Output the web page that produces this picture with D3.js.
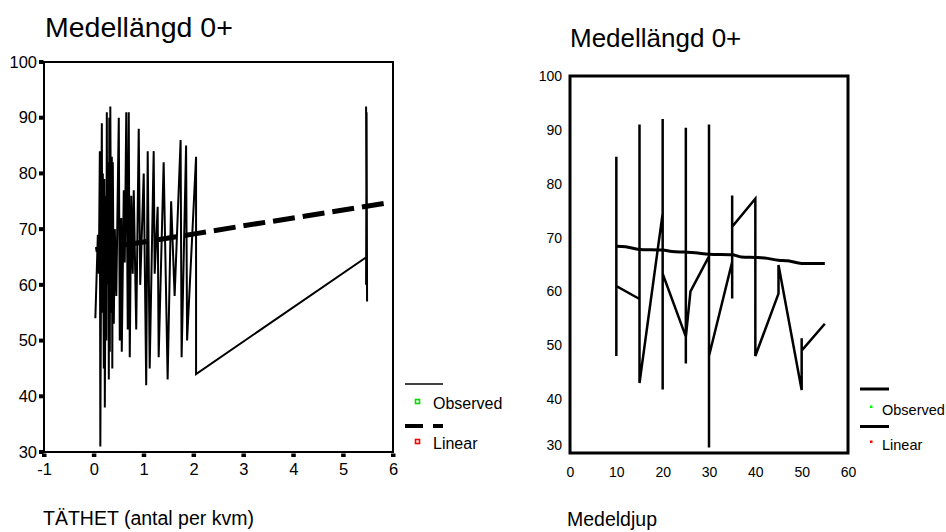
<!DOCTYPE html>
<html>
  <head>
    <title> Medellängd 0+ </title>
    <script src="https://d3js.org/d3.v7.min.js"></script>
    <style>
      body { margin: 0; background: #fff; }
      text { font-family: "Liberation Sans", Arial, sans-serif; fill: #000; }
    </style>
  </head>
  <body>
  <svg width="946" height="532"></svg>
  <script>

    // observed values, left plot: [TÄTHET, medellängd] in file order
    var obsTathet = [
      [0.03,54],[0.08,69],[0.10,62],[0.12,84],[0.13,31],[0.15,75],[0.16,89],[0.17,55],
      [0.18,80],[0.20,45],[0.21,79],[0.22,38],[0.24,76],[0.25,50],[0.26,91],[0.27,60],
      [0.29,82],[0.30,43],[0.31,90],[0.32,48],[0.33,92],[0.35,55],[0.36,83],[0.37,45],
      [0.38,82],[0.40,53],[0.42,70],[0.45,58],[0.50,90],[0.52,50],[0.55,72],[0.56,48],
      [0.60,77],[0.62,64],[0.65,91],[0.68,52],[0.70,91],[0.72,47],[0.75,76],[0.78,62],
      [0.80,77],[0.85,52],[0.90,88],[0.93,60],[1.00,80],[1.05,42],[1.08,84],[1.12,45],
      [1.20,84],[1.22,62],[1.28,74],[1.30,47],[1.40,82],[1.48,43],[1.55,75],[1.62,58],
      [1.74,86],[1.76,47],[1.85,85],[1.87,50],[2.05,83],[2.05,44],[5.47,65],[5.46,92],
      [5.48,57],[5.47,91],[5.46,60]
    ];
    // linear fit, left plot
    var fitTathet = [
      [0.03,66.3],[0.5,67.0],[1.0,67.7],[1.5,68.4],[2.05,69.2],[3,70.6],[4,72.0],[5.47,74.1],[5.82,74.6]
    ];

    // observed values, right plot: [Medeldjup, medellängd]
    var obsDjup = [
      [10,72],[10,85],[10,48],[10,70],[10,61],
      [15,58.6],[15,91],[15,43],
      [20,74.5],[20,41.8],[20,92],[20,63.3],
      [25,51.6],[25,90.4],[25,46.6],[25,51.5],[26,60],
      [30,66.5],[30,91],[30,31],[30,48],
      [35,65.5],[35,77.8],[35,58.7],[35,72],
      [40,77.2],[40,48],
      [45,59.6],[45,64.9],
      [50,41.7],[50,51.3],[50,49],
      [55,54]
    ];
    // linear fit, right plot
    var fitDjup = [
      [10,68.4],[12,68.3],[15,67.8],[20,67.7],[22,67.4],[25,67.3],[27,67.2],[30,66.9],
      [35,66.8],[37,66.4],[40,66.3],[42,66.2],[45,65.8],[47,65.7],[50,65.2],[55,65.2]
    ];

    var yTicks = [30, 40, 50, 60, 70, 80, 90, 100];
    var leftXTicks = [-1, 0, 1, 2, 3, 4, 5, 6];
    var rightXTicks = [0, 10, 20, 30, 40, 50, 60];
    var legendNames = ["Observed", "Linear"];

    var svg = d3.select("svg");

    var line = function(xs, ys) {
      return d3.line()
        .x(function(d) { return xs(d[0]); })
        .y(function(d) { return ys(d[1]); });
    };
    var plain = function(d) { return String(d); };

    //---------- left plot ----------
    var x1 = d3.scaleLinear().domain([-1, 6]).range([44, 393]);
    var y1 = d3.scaleLinear().domain([30, 100]).range([452, 62]);

    svg.append("text")
      .attr("x", 45).attr("y", 37)
      .attr("font-size", "28.5px")
      .text("Medellängd 0+");

    var ax1 = svg.append("g")
      .attr("transform", "translate(44,0)")
      .call(d3.axisLeft(y1).tickValues(yTicks).tickFormat(plain).tickSize(0).tickPadding(7));
    ax1.select(".domain").remove();
    ax1.selectAll("text").attr("font-size", "16.5px").attr("font-family", null);

    var bx1 = svg.append("g")
      .attr("transform", "translate(0,452)")
      .call(d3.axisBottom(x1).tickValues(leftXTicks).tickFormat(plain).tickSize(0).tickPadding(11));
    bx1.select(".domain").remove();
    bx1.selectAll("text").attr("font-size", "16.5px").attr("font-family", null);

    svg.append("rect")
      .attr("x", 44).attr("y", 62).attr("width", 349).attr("height", 390)
      .attr("fill", "none").attr("stroke", "#000").attr("stroke-width", 2);

    // small square tick marks
    svg.selectAll(".ytick1").data(yTicks).enter().append("rect")
      .attr("x", 39).attr("y", function(d) { return y1(d) - 2; })
      .attr("width", 4.5).attr("height", 4).attr("fill", "#000");
    svg.selectAll(".xtick1").data(leftXTicks).enter().append("rect")
      .attr("x", function(d) { return x1(d) - 2; }).attr("y", 453.5)
      .attr("width", 4.5).attr("height", 3.5).attr("fill", "#000");

    svg.append("path")
      .datum(obsTathet)
      .attr("d", line(x1, y1))
      .attr("fill", "none").attr("stroke", "#000")
      .attr("stroke-width", 2).attr("stroke-linejoin", "miter");

    svg.append("path")
      .datum(fitTathet)
      .attr("d", line(x1, y1))
      .attr("fill", "none").attr("stroke", "#000")
      .attr("stroke-width", 5).attr("stroke-dasharray", "22,8");

    //---------- left legend ----------
    svg.append("line").attr("x1", 405).attr("x2", 443).attr("y1", 384).attr("y2", 384)
      .attr("stroke", "#000").attr("stroke-width", 1.6);
    svg.append("line").attr("x1", 405).attr("x2", 443).attr("y1", 426).attr("y2", 426)
      .attr("stroke", "#000").attr("stroke-width", 4).attr("stroke-dasharray", "18,10");
    svg.selectAll(".lsq").data(legendNames).enter().append("rect")
      .attr("x", 415.5).attr("y", function(d, i) { return 399.5 + i * 40; })
      .attr("width", 4).attr("height", 4)
      .attr("fill", "#fff")
      .attr("stroke", function(d, i) { return i ? "#ff0000" : "#00e000"; })
      .attr("stroke-width", 1.6);
    svg.selectAll(".ltx").data(legendNames).enter().append("text")
      .attr("x", 433).attr("y", function(d, i) { return 409 + i * 40; })
      .attr("font-size", "16px")
      .text(function(d) { return d; });

    svg.append("text")
      .attr("x", 43).attr("y", 525)
      .attr("font-size", "19.5px")
      .text("TÄTHET (antal per kvm)");

    //---------- right plot ----------
    var x2 = d3.scaleLinear().domain([0, 60]).range([570, 848]);
    var y2 = d3.scaleLinear().domain([30, 100]).range([453, 76]);

    svg.append("text")
      .attr("x", 570).attr("y", 47)
      .attr("font-size", "26px")
      .text("Medellängd 0+");

    var ax2 = svg.append("g")
      .attr("transform", "translate(570,0)")
      .call(d3.axisLeft(y2).tickValues(yTicks).tickFormat(plain).tickSize(0).tickPadding(8));
    ax2.select(".domain").remove();
    ax2.selectAll("text").attr("font-size", "14px").attr("font-family", null);
    // lowest label sits a bit above the frame
    ax2.selectAll(".tick").filter(function(d) { return d === 30; })
      .select("text").attr("y", -8);

    var bx2 = svg.append("g")
      .attr("transform", "translate(0,453)")
      .call(d3.axisBottom(x2).tickValues(rightXTicks).tickFormat(plain).tickSize(0).tickPadding(14));
    bx2.select(".domain").remove();
    bx2.selectAll("text").attr("font-size", "14px").attr("font-family", null);

    svg.append("rect")
      .attr("x", 570).attr("y", 76).attr("width", 278).attr("height", 377)
      .attr("fill", "none").attr("stroke", "#000").attr("stroke-width", 3);

    svg.append("path")
      .datum(obsDjup)
      .attr("d", line(x2, y2))
      .attr("fill", "none").attr("stroke", "#000")
      .attr("stroke-width", 2.5);

    svg.append("path")
      .datum(fitDjup)
      .attr("d", line(x2, y2).curve(d3.curveMonotoneX))
      .attr("fill", "none").attr("stroke", "#000")
      .attr("stroke-width", 3);

    //---------- right legend ----------
    svg.selectAll(".rln").data(legendNames).enter().append("line")
      .attr("x1", 860).attr("x2", 889)
      .attr("y1", function(d, i) { return 389 + i * 37.5; })
      .attr("y2", function(d, i) { return 389 + i * 37.5; })
      .attr("stroke", "#000").attr("stroke-width", 3);
    svg.selectAll(".rdot").data(legendNames).enter().append("rect")
      .attr("x", 870).attr("y", function(d, i) { return 405.5 + i * 35; })
      .attr("width", 2.5).attr("height", 2.5)
      .attr("fill", function(d, i) { return i ? "#ff0000" : "#00ff00"; });
    svg.selectAll(".rtx").data(legendNames).enter().append("text")
      .attr("x", 882).attr("y", function(d, i) { return 415 + i * 35; })
      .attr("font-size", "14.5px")
      .text(function(d) { return d; });

    svg.append("text")
      .attr("x", 567).attr("y", 526)
      .attr("font-size", "19.5px")
      .text("Medeldjup");

</script>
</body>
</html>
